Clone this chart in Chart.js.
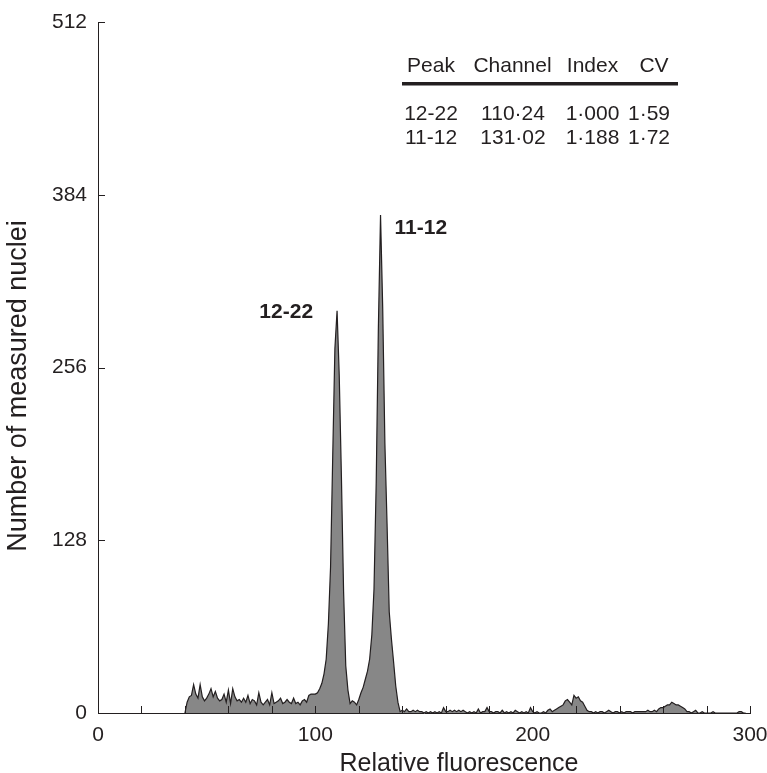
<!DOCTYPE html>
<html><head><meta charset="utf-8">
<script src="https://cdn.jsdelivr.net/npm/chart.js@4/dist/chart.umd.min.js"></script>
<style>html,body{margin:0;padding:0;background:#fff}#wrap{width:767px;height:773px}</style>
</head><body><div id="wrap"><canvas id="c" width="767" height="773"></canvas></div>
<script>
// ---- data ----
const channels = [];
for (let c = 40; c <= 298; c++) channels.push(c);
const counts = [
 0,8,12,13,21,14,11,21,12,9,            // 40-49
 11,14,18,12,16,11,9,10,14,8,           // 50-59
 17,7,18,12,9,10,8,11,8,13,             // 60-69
 7,10,9,6,15,8,6,8,10,6,                // 70-79
 15,7,8,9,11,7,8,10,8,7,                // 80-89
 11,7,8,6,9,10,8,13,14,14,              // 90-99
 14,15,18,22,29,40,66,108,190,270,      // 100-109
 298,250,175,90,35,17,7,9,8,6,          // 110-119
 10,15,19,25,31,40,58,92,170,285,       // 120-129
 369,300,200,140,75,55,38,20,8,1,       // 130-139
 2,1,3,1,1,2,1,2,1,1,                   // 140-149
 0,1,0,1,0,1,0,1,0,4,                   // 150-159
 1,1,2,1,2,1,2,1,2,1,                   // 160-169
 0,1,0,1,0,3,0,1,1,4,                   // 170-179
 1,1,0,1,1,0,2,0,1,0,                   // 180-189
 1,0,2,1,0,1,0,1,0,4,                   // 190-199
 1,0,1,0,0,1,0,2,3,1,                   // 200-209
 2,3,4,5,6,9,10,8,6,13,                 // 210-219
 11,12,9,8,5,2,1,1,0,1,                 // 220-229
 0,1,1,0,1,2,1,0,1,1,                   // 230-239
 0,1,0,1,1,1,0,1,1,1,                   // 240-249
 1,1,1,2,1,1,2,1,3,4,                   // 250-259
 4,5,6,6,8,7,6,6,5,4,                   // 260-269
 3,1,1,0,1,2,0,0,1,0,                   // 270-279
 0,0,0,1,0,0,0,0,0,0,                   // 280-289
 0,0,0,0,0,1,1,0,0                      // 290-298
];
const xLabelValues = [0, 100, 200, 300];
const xMinorTicks = [20,40,60,80,100,120,140,160,180,200,220,240,260,280,300];
const yTickValues = [0, 128, 256, 384, 512];
const xTitle = 'Relative fluorescence';
const yTitle = 'Number of measured nuclei';
const tableHeader = ['Peak', 'Channel', 'Index', 'CV'];
const tableRow1 = ['12-22', '110·24', '1·000', '1·59'];
const tableRow2 = ['11-12', '131·02', '1·188', '1·72'];
const peakNames = ['12-22', '11-12'];
const peakChannels = [110, 130];
const peakHeights = [298, 369];

const INK = '#231f20';
const FONT = '"Liberation Sans", Arial, Helvetica, sans-serif';

const overlay = {
  id: 'overlay',
  afterDatasetsDraw(chart) {
    const {ctx, scales: {x, y}} = chart;
    ctx.save();
    ctx.strokeStyle = INK; ctx.lineWidth = 1;
    ctx.beginPath();
    xMinorTicks.forEach(v => {
      const px = Math.round(x.getPixelForValue(v)) + 0.5;
      ctx.moveTo(px, y.bottom); ctx.lineTo(px, y.bottom - 7);
    });
    yTickValues.forEach(v => {
      if (v === 0) return;
      const py = Math.round(y.getPixelForValue(v)) + 0.5;
      ctx.moveTo(x.left, py); ctx.lineTo(x.left + 7, py);
    });
    ctx.stroke();

    // peak labels
    ctx.fillStyle = INK;
    ctx.font = 'bold 21px ' + FONT;
    ctx.textBaseline = 'middle';
    let px = x.getPixelForValue(peakChannels[0]), py = y.getPixelForValue(peakHeights[0]);
    ctx.textAlign = 'right';
    ctx.fillText(peakNames[0], px - 24, py + 1);
    px = x.getPixelForValue(peakChannels[1]); py = y.getPixelForValue(peakHeights[1]);
    ctx.textAlign = 'left';
    ctx.fillText(peakNames[1], px + 14, py + 13);

    // table
    ctx.font = '21px ' + FONT;
    ctx.textAlign = 'center';
    const hc = [431, 512.5, 592.5, 654];
    const vc = [431, 513, 592.5, 649];
    tableHeader.forEach((t, i) => ctx.fillText(t, hc[i], 66));
    ctx.fillRect(402, 82, 276, 3.5);
    tableRow1.forEach((t, i) => ctx.fillText(t, vc[i], 114));
    tableRow2.forEach((t, i) => ctx.fillText(t, vc[i], 138));

    // axis titles
    ctx.font = '25px ' + FONT;
    ctx.textAlign = 'center';
    ctx.fillText(xTitle, 459, 764);
    ctx.translate(19, 386);
    ctx.rotate(-Math.PI / 2);
    ctx.font = '27px ' + FONT;
    ctx.fillText(yTitle, 0, 0);
    ctx.restore();
  }
};

new Chart(document.getElementById('c'), {
  type: 'line',
  data: {
    datasets: [{
      data: channels.map((c, i) => ({x: c, y: counts[i]})),
      borderColor: INK,
      borderWidth: 1.2,
      backgroundColor: '#878787',
      fill: 'origin',
      pointRadius: 0,
      tension: 0
    }]
  },
  options: {
    responsive: false,
    animation: false,
    devicePixelRatio: 1,
    layout: {padding: {top: 22, right: 17, left: 0, bottom: 0}},
    plugins: {legend: {display: false}, tooltip: {enabled: false}},
    scales: {
      x: {
        type: 'linear', min: 0, max: 300,
        afterBuildTicks: s => { s.ticks = xLabelValues.map(v => ({value: v})); },
        grid: {display: false, drawTicks: false},
        border: {display: true, color: INK, width: 1},
        ticks: {color: INK, font: {family: FONT, size: 21}, padding: 10, maxRotation: 0},
        title: {display: false},
        afterFit: s => { s.height = 60; s.paddingLeft = 0; s.paddingRight = 0; }
      },
      y: {
        type: 'linear', min: 0, max: 512,
        afterBuildTicks: s => { s.ticks = yTickValues.map(v => ({value: v})); },
        grid: {display: false, drawTicks: false},
        border: {display: true, color: INK, width: 1},
        ticks: {color: INK, font: {family: FONT, size: 21}, padding: 11},
        title: {display: false},
        afterFit: s => { s.width = 98; s.paddingTop = 0; s.paddingBottom = 0; }
      }
    }
  },
  plugins: [overlay]
});
</script>
</body></html>
